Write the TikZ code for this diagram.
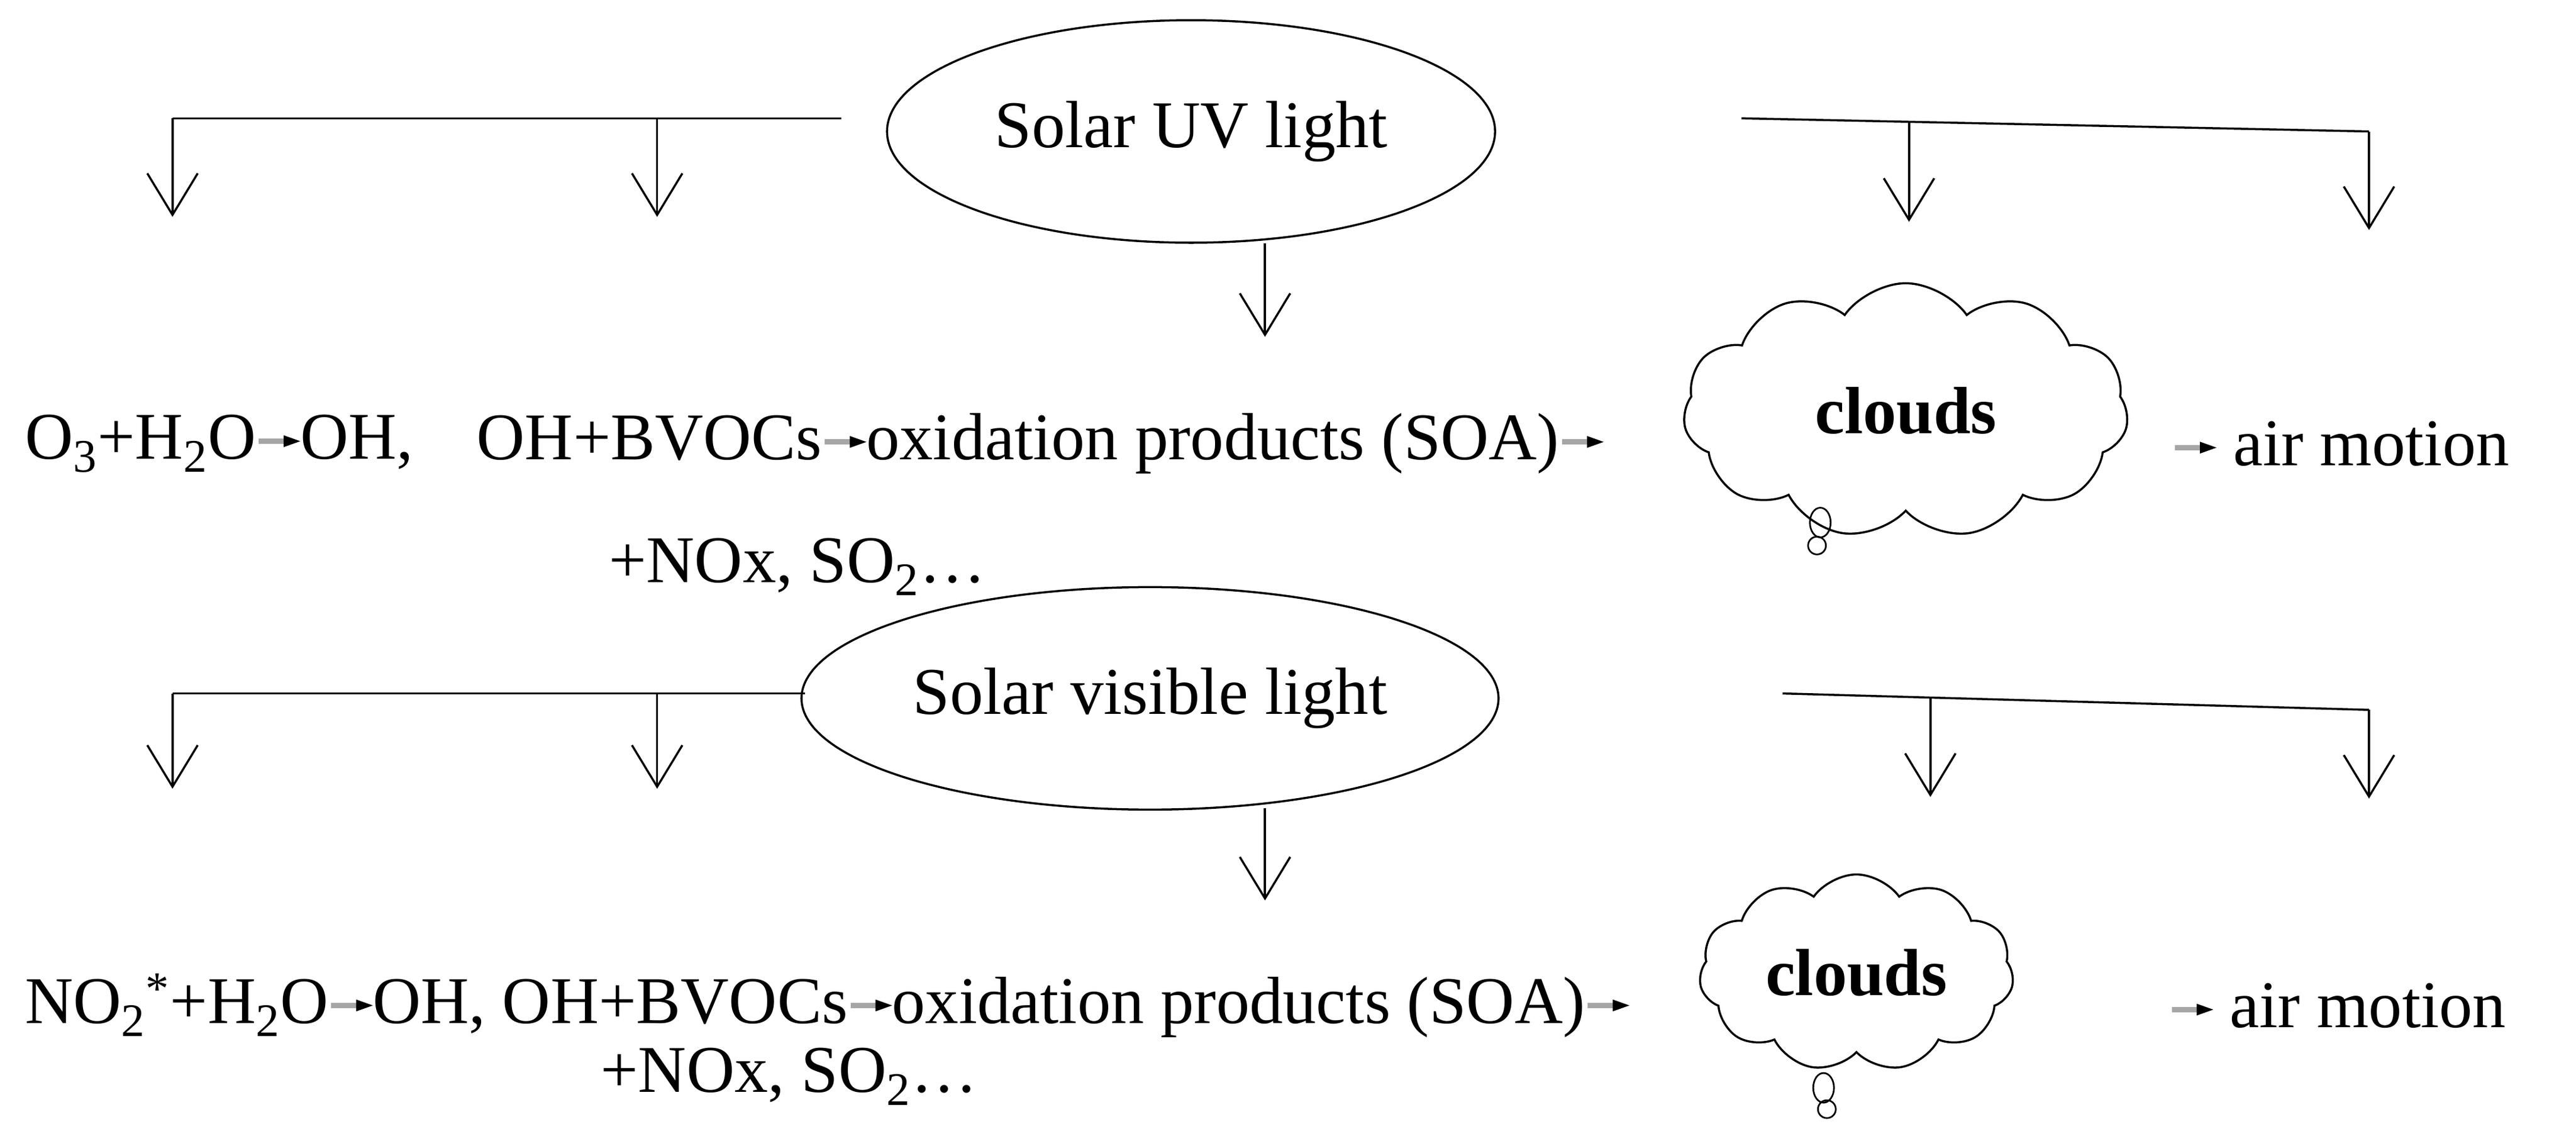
\documentclass[tikz,border=0pt]{standalone}
\usepackage{fontspec}
\setmainfont{Liberation Serif}
\usetikzlibrary{positioning, arrows.meta, shapes.geometric, shapes.symbols}

\newcommand{\rxarrg}{\tikz[x=1cm, y=1cm, baseline=0ex]{\draw[gray!70, line width=2.6pt] (0,0.3) -- (0.45,0.3); \fill (0.42,0.2) -- (0.7,0.3) -- (0.42,0.4) -- cycle;}}

\begin{document}
\begin{tikzpicture}[x=0.0277cm, y=-0.0277cm,
        line width=1pt,
        light/.style={ellipse, draw, minimum width=10.25cm, minimum height=3.75cm, font=\fontsize{32}{36}\selectfont},
        txt/.style={inner sep=0pt, anchor=west, font=\fontsize{32}{36}\selectfont},
        cloudy/.style={cloud, draw, cloud puffs=11, cloud puff arc=110, aspect=1.7, font=\fontsize{32}{36}\selectfont\bfseries},
        bubble/.style={ellipse, draw, line width=0.8pt, inner sep=0pt},
        drop/.style={-{Straight Barb[length=0.7cm, width=0.85cm]}}
    ]
    \useasboundingbox (0,0) rectangle (1568,690);

    % UV light row
    \node[light] (uv) at (725,80) {Solar UV light};
    \coordinate (uvl) at (512,72);
    \coordinate (uvr) at (1060,72);
    \coordinate (uva) at (105,72);
    \coordinate (uvb) at (400,72);
    \coordinate (uvc) at (1162,74);
    \coordinate (uvd) at (1442,80);
    \draw (uvl) -- (uva);
    \draw (uvr) -- (uvd);
    \draw[drop] (uva) -- ++(0,60);
    \draw[drop] (uvb) -- ++(0,60);
    \draw[drop] (uvc) -- ++(0,61);
    \draw[drop] (uvd) -- ++(0,60);
    \draw[drop] (770,148) -- (770,205);

    \node[txt] (uvo3) at (15,270) {O\textsubscript{3}+H\textsubscript{2}O\rxarrg OH,};
    \node[txt] (uvoh) at (290,270) {OH+BVOCs\rxarrg oxidation products (SOA)\rxarrg};
    \node[txt] (uvno) at (370,345) {+NOx, SO\textsubscript{2}\ldots};
    \node[cloudy, minimum width=7.5cm, minimum height=4.3cm] (uvcloud) at (1160,250) {clouds};
    \node[bubble, minimum width=0.35cm, minimum height=0.5cm] (uvb1) at (1108,318) {};
    \node[bubble, minimum width=0.3cm, minimum height=0.3cm] (uvb2) at (1106,332) {};
    \node[txt] (uvair) at (1322,270) {\rxarrg\ air motion};

    % visible light row
    \node[light, minimum width=11.75cm] (vis) at (700,425) {Solar visible light};
    \coordinate (visl) at (490,422);
    \coordinate (visr) at (1085,422);
    \coordinate (visa) at (105,422);
    \coordinate (visb) at (400,422);
    \coordinate (visc) at (1175,424);
    \coordinate (visd) at (1442,432);
    \draw (visl) -- (visa);
    \draw (visr) -- (visd);
    \draw[drop] (visa) -- ++(0,58);
    \draw[drop] (visb) -- ++(0,58);
    \draw[drop] (visc) -- ++(0,61);
    \draw[drop] (visd) -- ++(0,54);
    \draw[drop] (770,492) -- (770,548);

    \node[txt] (visno2) at (15,612) {NO\textsubscript{2}\textsuperscript{*}+H\textsubscript{2}O\rxarrg OH, OH+BVOCs\rxarrg oxidation products (SOA)\rxarrg};
    \node[txt] (visno) at (365,655) {+NOx, SO\textsubscript{2}\ldots};
    \node[cloudy, minimum width=5.3cm, minimum height=3.3cm] (viscloud) at (1130,592) {clouds};
    \node[bubble, minimum width=0.35cm, minimum height=0.5cm] (visb1) at (1110,662) {};
    \node[bubble, minimum width=0.3cm, minimum height=0.3cm] (visb2) at (1112,675) {};
    \node[txt] (visair) at (1320,612) {\rxarrg\ air motion};
\end{tikzpicture}
\end{document}
